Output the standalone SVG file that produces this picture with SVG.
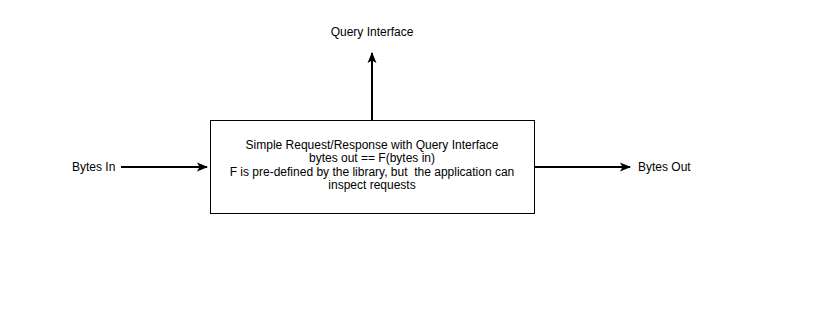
<svg xmlns="http://www.w3.org/2000/svg" width="839" height="313" viewBox="0 0 839 313">
<style>
text{font-family:"Liberation Sans",Arial,sans-serif;font-size:12px;fill:#000;white-space:pre}
.c{stroke:#000;stroke-width:2;fill:none}
.box{fill:#fff;stroke:#000;stroke-width:1}
</style>
<defs>
<marker id="ah" viewBox="-11 -5 12 10" refX="0" refY="0" markerWidth="12" markerHeight="10" markerUnits="userSpaceOnUse" orient="auto" overflow="visible">
<path d="M-10,-4.5 L1,0 L-10,4.5 L-7.5,0 Z" fill="#000"/>
</marker>
</defs>
<rect width="839" height="313" fill="#fff"/>
<g id="connectors">
<line class="c" x1="121" y1="167" x2="207" y2="167" marker-end="url(#ah)"/>
<line class="c" x1="534" y1="167" x2="630" y2="167" marker-end="url(#ah)"/>
<line class="c" x1="372" y1="120" x2="372" y2="53" marker-end="url(#ah)"/>
</g>
<g id="main">
<rect class="box" x="210.5" y="120.5" width="324" height="93"/>
<text x="372" y="149" text-anchor="middle">Simple Request/Response with Query Interface</text>
<text x="372" y="162" text-anchor="middle">bytes out == F(bytes in)</text>
<text x="372" y="176" text-anchor="middle" xml:space="preserve">F is pre-defined by the library, but  the application can</text>
<text x="372" y="189" text-anchor="middle">inspect requests</text>
</g>
<g id="bytes-in"><text x="72" y="171">Bytes In</text></g>
<g id="bytes-out"><text x="638" y="171">Bytes Out</text></g>
<g id="query"><text x="372" y="36" text-anchor="middle">Query Interface</text></g>
</svg>
